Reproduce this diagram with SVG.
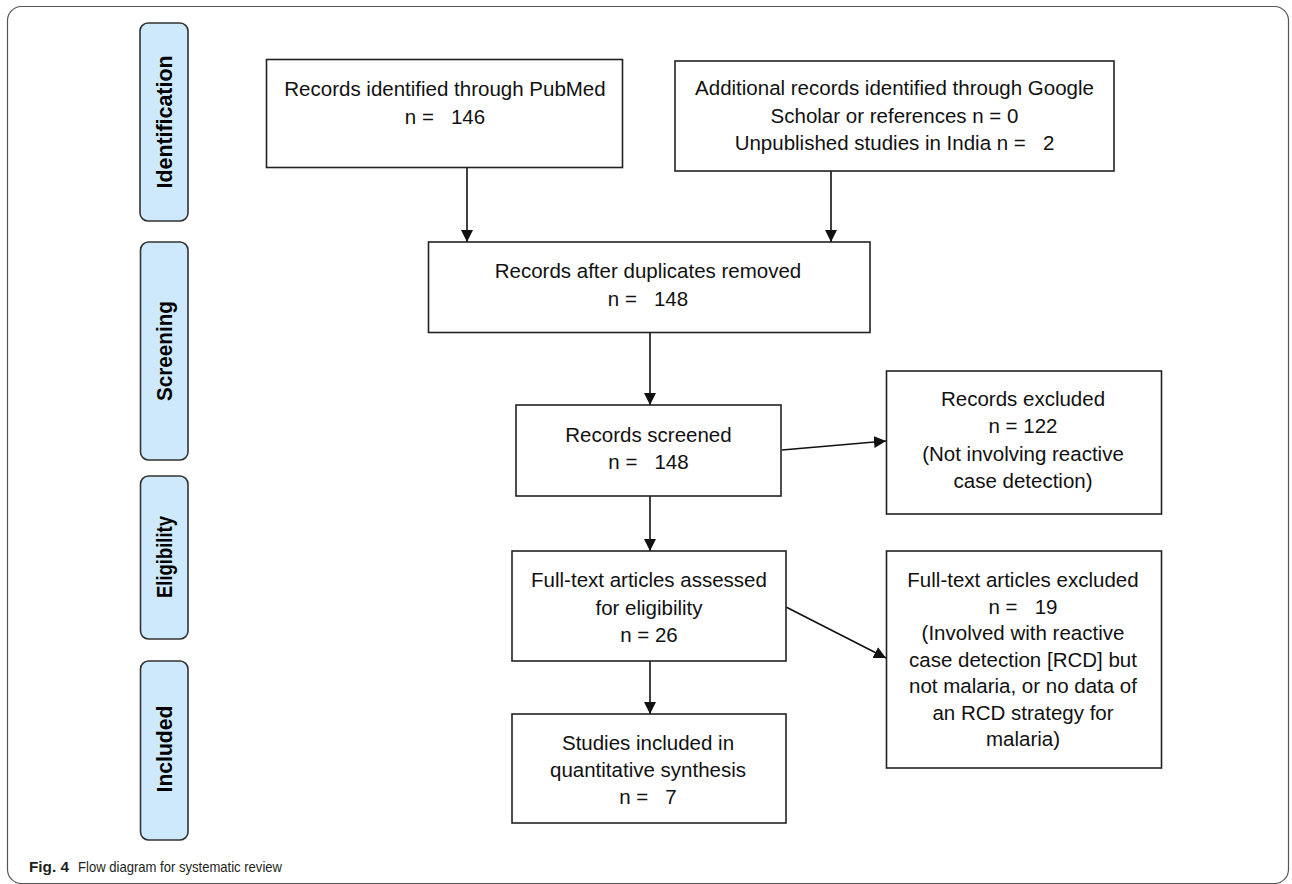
<svg xmlns="http://www.w3.org/2000/svg" width="1292" height="884" viewBox="0 0 1292 884">
<style>
.frame{fill:#fff;stroke:#555;stroke-width:1.2}
.stage{fill:#cde9fb;stroke:#333;stroke-width:1.6}
.stxt{font-family:"Liberation Sans",Arial,sans-serif;font-weight:bold;font-size:21.5px;fill:#000;text-anchor:middle}
.box{fill:#fff;stroke:#222;stroke-width:1.6}
.t{font-family:"Liberation Sans",Arial,sans-serif;font-size:20.5px;fill:#111;text-anchor:middle;white-space:pre}
.conn{stroke:#111;stroke-width:1.6;fill:none;marker-end:url(#ah)}
.cap{font-family:"Liberation Sans",Arial,sans-serif;font-size:14.5px;fill:#231f20}
</style>
<defs>
<marker id="ah" markerUnits="userSpaceOnUse" markerWidth="12" markerHeight="12" refX="12" refY="6" orient="auto">
<path d="M0,0 L12,6 L0,12 z" fill="#111"/>
</marker>
</defs>
<rect class="frame" x="7.5" y="6.5" width="1281" height="877" rx="14"/>

<g id="stage-identification">
<rect class="stage" x="140" y="23" width="48" height="198" rx="8"/>
<text class="stxt" transform="translate(164,122) rotate(-90)" x="0" y="8" textLength="133" lengthAdjust="spacingAndGlyphs">Identification</text>
</g>
<g id="stage-screening">
<rect class="stage" x="140.5" y="242" width="47.5" height="218" rx="8"/>
<text class="stxt" transform="translate(164,351) rotate(-90)" x="0" y="8" textLength="100" lengthAdjust="spacingAndGlyphs">Screening</text>
</g>
<g id="stage-eligibility">
<rect class="stage" x="140.5" y="476" width="47.5" height="163" rx="8"/>
<text class="stxt" transform="translate(164,557) rotate(-90)" x="0" y="8" textLength="82" lengthAdjust="spacingAndGlyphs">Eligibility</text>
</g>
<g id="stage-included">
<rect class="stage" x="140.5" y="661" width="47.5" height="179" rx="8"/>
<text class="stxt" transform="translate(164,749) rotate(-90)" x="0" y="8" textLength="87" lengthAdjust="spacingAndGlyphs">Included</text>
</g>

<g id="connectors">
<line class="conn" x1="467" y1="167" x2="467" y2="242"/>
<line class="conn" x1="831" y1="171" x2="831" y2="242"/>
<line class="conn" x1="650" y1="332" x2="650" y2="405"/>
<line class="conn" x1="782" y1="450" x2="886" y2="441"/>
<line class="conn" x1="650" y1="496" x2="650" y2="551"/>
<line class="conn" x1="786" y1="607" x2="886" y2="658"/>
<line class="conn" x1="650" y1="661" x2="650" y2="714"/>
</g>

<g id="node-pubmed">
<rect class="box" x="266.5" y="59.5" width="356" height="108"/>
<text class="t" x="445" y="96">Records identified through PubMed</text>
<text class="t" x="445" y="124">n =   146</text>
</g>
<g id="node-additional">
<rect class="box" x="675" y="61" width="439" height="110"/>
<text class="t" x="894.5" y="95">Additional records identified through Google</text>
<text class="t" x="894.5" y="122.5">Scholar or references n = 0</text>
<text class="t" x="894.5" y="150">Unpublished studies in India n =   2</text>
</g>
<g id="node-duplicates">
<rect class="box" x="428.5" y="242" width="441.5" height="90.5"/>
<text class="t" x="648" y="278">Records after duplicates removed</text>
<text class="t" x="648" y="306">n =   148</text>
</g>
<g id="node-screened">
<rect class="box" x="516" y="405" width="265" height="91"/>
<text class="t" x="648.5" y="441.5">Records screened</text>
<text class="t" x="648.5" y="469">n =   148</text>
</g>
<g id="node-records-excluded">
<rect class="box" x="886.5" y="371" width="275" height="143"/>
<text class="t" x="1023" y="405.5">Records excluded</text>
<text class="t" x="1023" y="433">n = 122</text>
<text class="t" x="1023" y="460.5">(Not involving reactive</text>
<text class="t" x="1023" y="488">case detection)</text>
</g>
<g id="node-assessed">
<rect class="box" x="512" y="551" width="274" height="110"/>
<text class="t" x="649" y="587">Full-text articles assessed</text>
<text class="t" x="649" y="614.5">for eligibility</text>
<text class="t" x="649" y="642">n = 26</text>
</g>
<g id="node-fulltext-excluded">
<rect class="box" x="886.5" y="551" width="275" height="217"/>
<text class="t" x="1023" y="587">Full-text articles excluded</text>
<text class="t" x="1023" y="613.5">n =   19</text>
<text class="t" x="1023" y="640">(Involved with reactive</text>
<text class="t" x="1023" y="666.5">case detection [RCD] but</text>
<text class="t" x="1023" y="693">not malaria, or no data of</text>
<text class="t" x="1023" y="719.5">an RCD strategy for</text>
<text class="t" x="1023" y="746">malaria)</text>
</g>
<g id="node-included">
<rect class="box" x="512" y="714" width="274" height="109"/>
<text class="t" x="648" y="750">Studies included in</text>
<text class="t" x="648" y="777">quantitative synthesis</text>
<text class="t" x="648" y="803.5">n =   7</text>
</g>

<g id="caption">
<text class="cap" x="29" y="872" font-weight="bold" font-size="15" textLength="40" lengthAdjust="spacingAndGlyphs">Fig. 4</text>
<text class="cap" x="78" y="872" textLength="204" lengthAdjust="spacingAndGlyphs">Flow diagram for systematic review</text>
</g>
</svg>
